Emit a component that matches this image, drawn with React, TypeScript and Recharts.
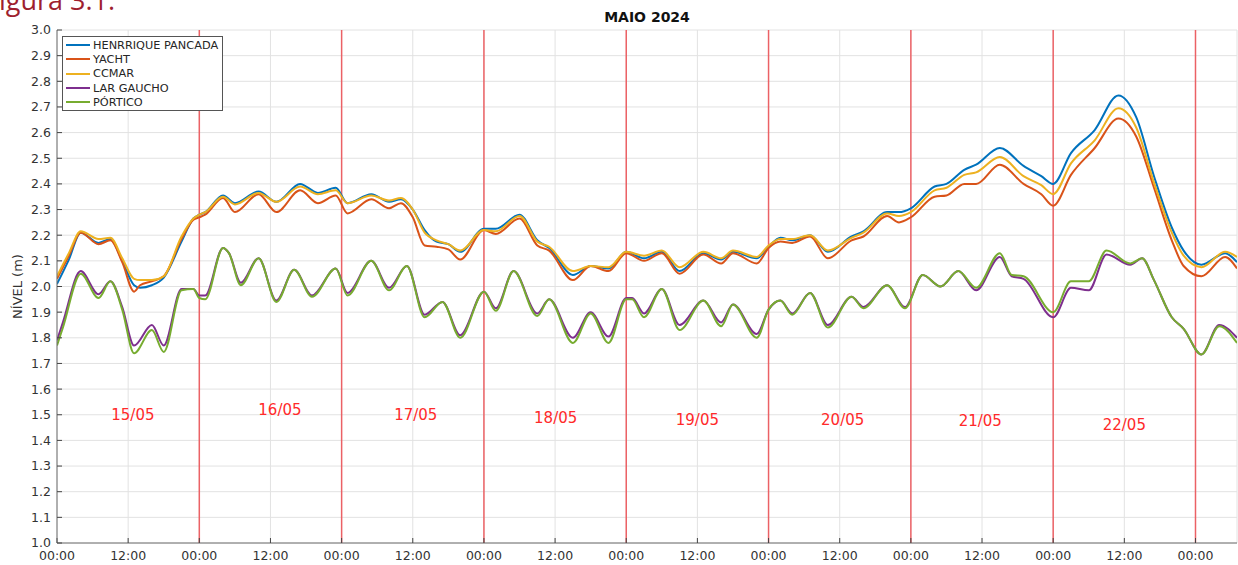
import { CartesianGrid, Label, Legend, Line, LineChart, ReferenceDot, ReferenceLine, XAxis, YAxis } from "recharts";

// hours since 15/05 00:00
const upperHours = [
  0, 2, 4, 7, 9, 11, 13, 14, 16, 18, 21, 23, 24, 25, 28, 30, 34, 37, 41, 44, 47, 49, 53, 56, 58, 60, 62, 64, 66, 68,
  72, 74, 78, 81, 83, 87, 90, 93, 96, 99, 102, 105, 109, 112, 114, 118, 120, 122, 124, 127, 130, 134, 136, 140, 142,
  144, 148, 150, 153, 155, 159, 163, 166, 168, 171, 175, 179, 182, 185, 188, 190, 193, 197, 199,
];
const henrriquePancada = [
  2.01, 2.105, 2.21, 2.17, 2.185, 2.1, 2.005, 1.995, 2.005, 2.035, 2.175, 2.265, 2.28, 2.29, 2.355, 2.325, 2.37, 2.33,
  2.4, 2.365, 2.385, 2.325, 2.36, 2.33, 2.34, 2.3, 2.22, 2.175, 2.165, 2.135, 2.225, 2.225, 2.28, 2.18, 2.15, 2.045,
  2.08, 2.07, 2.135, 2.11, 2.135, 2.06, 2.13, 2.105, 2.135, 2.11, 2.155, 2.19, 2.18, 2.2, 2.135, 2.195, 2.215, 2.29,
  2.29, 2.305, 2.39, 2.4, 2.455, 2.475, 2.54, 2.47, 2.43, 2.4, 2.52, 2.61, 2.745, 2.66, 2.43, 2.23, 2.14, 2.085, 2.13,
  2.095,
];
const yacht = [
  2.03, 2.12, 2.21, 2.165, 2.18, 2.095, 1.98, 2.005, 2.02, 2.04, 2.185, 2.26, 2.27, 2.28, 2.345, 2.29, 2.36, 2.29,
  2.375, 2.325, 2.355, 2.285, 2.34, 2.305, 2.325, 2.27, 2.16, 2.155, 2.145, 2.105, 2.22, 2.205, 2.265, 2.16, 2.14,
  2.025, 2.08, 2.06, 2.13, 2.1, 2.13, 2.05, 2.125, 2.09, 2.13, 2.09, 2.15, 2.175, 2.17, 2.195, 2.11, 2.18, 2.195, 2.275,
  2.25, 2.27, 2.35, 2.355, 2.4, 2.4, 2.475, 2.4, 2.36, 2.315, 2.435, 2.54, 2.655, 2.585, 2.385, 2.18, 2.08, 2.04, 2.115,
  2.07,
];
const ccmar = [
  2.04, 2.13, 2.215, 2.185, 2.19, 2.11, 2.03, 2.025, 2.025, 2.04, 2.195, 2.265, 2.28, 2.29, 2.35, 2.32, 2.365, 2.33,
  2.39, 2.36, 2.375, 2.325, 2.355, 2.335, 2.345, 2.3, 2.21, 2.18, 2.165, 2.14, 2.22, 2.215, 2.275, 2.175, 2.155, 2.06,
  2.08, 2.075, 2.135, 2.12, 2.14, 2.075, 2.135, 2.11, 2.14, 2.115, 2.16, 2.185, 2.185, 2.2, 2.14, 2.19, 2.21, 2.285,
  2.275, 2.29, 2.375, 2.385, 2.435, 2.445, 2.505, 2.43, 2.395, 2.36, 2.48, 2.57, 2.695, 2.62, 2.405, 2.21, 2.12, 2.075,
  2.135, 2.115,
];

const lowerHours = [
  0, 1, 4, 7, 9, 11, 13, 16, 18, 21, 23, 24, 25, 28, 29, 31, 34, 37, 40, 43, 47, 49, 53, 56, 59, 62, 65, 68, 72, 74,
  77, 81, 83, 87, 90, 93, 96, 97, 99, 102, 105, 109, 112, 114, 118, 120, 122, 124, 127, 130, 134, 136, 140, 143, 146,
  149, 152, 155, 159, 161, 163, 168, 171, 174, 177, 181, 183, 185, 188, 190, 193, 196, 199,
];
const larGaucho = [
  1.79, 1.86, 2.06, 1.97, 2.02, 1.92, 1.77, 1.85, 1.77, 1.99, 1.99, 1.965, 1.965, 2.15, 2.13, 2.015, 2.11, 1.945,
  2.065, 1.965, 2.07, 1.975, 2.1, 1.995, 2.08, 1.89, 1.94, 1.81, 1.98, 1.915, 2.06, 1.895, 1.95, 1.8, 1.9, 1.805,
  1.955, 1.955, 1.895, 1.99, 1.85, 1.945, 1.86, 1.93, 1.815, 1.91, 1.945, 1.895, 1.975, 1.85, 1.96, 1.92, 2.005, 1.92,
  2.045, 2.0, 2.06, 1.985, 2.115, 2.04, 2.03, 1.88, 1.995, 1.985, 2.125, 2.085, 2.11, 2.025, 1.88, 1.835, 1.735, 1.85,
  1.8,
];
const portico = [
  1.77, 1.84, 2.05, 1.955, 2.02, 1.91, 1.74, 1.83, 1.745, 1.985, 1.99, 1.955, 1.95, 2.15, 2.13, 2.005, 2.11, 1.94,
  2.065, 1.96, 2.07, 1.965, 2.1, 1.985, 2.08, 1.88, 1.94, 1.8, 1.98, 1.905, 2.06, 1.885, 1.95, 1.78, 1.895, 1.78, 1.95,
  1.95, 1.88, 1.99, 1.83, 1.945, 1.845, 1.93, 1.8, 1.91, 1.945, 1.89, 1.975, 1.84, 1.96, 1.915, 2.005, 1.915, 2.045,
  2.0, 2.06, 1.995, 2.13, 2.045, 2.04, 1.9, 2.02, 2.02, 2.14, 2.09, 2.11, 2.025, 1.88, 1.835, 1.735, 1.845, 1.78,
];

const xTicks = [0, 12, 24, 36, 48, 60, 72, 84, 96, 108, 120, 132, 144, 156, 168, 180, 192];
const yTicks = [
  1.0, 1.1, 1.2, 1.3, 1.4, 1.5, 1.6, 1.7, 1.8, 1.9, 2.0, 2.1, 2.2, 2.3, 2.4, 2.5, 2.6, 2.7, 2.8, 2.9, 3.0,
];
const dayBoundaries = [24, 48, 72, 96, 120, 144, 168, 192];
const dayLabels = ["15/05", "16/05", "17/05", "18/05", "19/05", "20/05", "21/05", "22/05"];
const dayLabelHours = [12.8, 37.6, 60.5, 84.1, 108, 132.5, 155.7, 180];
const dayLabelLevels = [1.5, 1.518, 1.499, 1.487, 1.48, 1.48, 1.476, 1.46];

const upperData = upperHours.map((h, i) => ({ h, hp: henrriquePancada[i], yacht: yacht[i], ccmar: ccmar[i] }));
const lowerData = lowerHours.map((h, i) => ({ h, lar: larGaucho[i], portico: portico[i] }));

const series = [
  { key: "hp", name: "HENRRIQUE PANCADA", color: "#0072BD", data: upperData },
  { key: "yacht", name: "YACHT", color: "#D95319", data: upperData },
  { key: "ccmar", name: "CCMAR", color: "#EDB120", data: upperData },
  { key: "lar", name: "LAR GAUCHO", color: "#7E2F8E", data: lowerData },
  { key: "portico", name: "PÓRTICO", color: "#77AC30", data: lowerData },
];

const font = "'DejaVu Sans', sans-serif";
const axisColor = "#6f6f6f";
const tickText = { fontSize: 12.5, fill: "#333", fontFamily: font };

function LegendBox() {
  return (
    <div style={{ border: "1px solid #555", background: "#fff", padding: "1px 4px 1px 3px", fontFamily: font }}>
      {series.map((s) => (
        <div key={s.key} style={{ display: "flex", alignItems: "center", height: 14.3 }}>
          <span style={{ width: 24, height: 2, background: s.color, marginRight: 3 }} />
          <span style={{ fontSize: 11.3, color: "#262626", whiteSpace: "nowrap" }}>{s.name}</span>
        </div>
      ))}
    </div>
  );
}

export default function App() {
  return (
    <div style={{ position: "absolute", left: 0, top: 0, width: 1238, height: 565, background: "#fff", overflow: "hidden" }}>
      <LineChart width={1238} height={565} margin={{ top: 30, right: 1, bottom: 0, left: 12 }}>
        <CartesianGrid stroke="#e2e2e2" strokeWidth={1} />
        <XAxis
          dataKey="h"
          type="number"
          domain={[0, 199]}
          ticks={xTicks}
          interval={0}
          height={22}
          tickFormatter={(h: number) => (h % 24 === 0 ? "00:00" : "12:00")}
          tick={tickText}
          tickSize={-5}
          tickMargin={13}
          tickLine={{ stroke: "#444" }}
          axisLine={{ stroke: axisColor }}
          allowDataOverflow
        />
        <XAxis
          xAxisId="top"
          orientation="top"
          dataKey="h"
          type="number"
          domain={[0, 199]}
          ticks={xTicks}
          interval={0}
          height={0}
          tickFormatter={() => ""}
          tickSize={-5}
          tickLine={{ stroke: "#444" }}
          axisLine={{ stroke: axisColor }}
        />
        <YAxis
          type="number"
          domain={[1, 3]}
          ticks={yTicks}
          interval={0}
          width={45}
          tickFormatter={(v: number) => v.toFixed(1)}
          tick={tickText}
          tickSize={-5}
          tickMargin={11}
          tickLine={{ stroke: "#444" }}
          axisLine={{ stroke: axisColor }}
          allowDataOverflow
        >
          <Label
            value="NÍVEL (m)"
            angle={-90}
            position="insideLeft"
            offset={5}
            style={{ fontSize: 13, fill: "#333", fontFamily: font, textAnchor: "middle" }}
          />
        </YAxis>
        <YAxis
          yAxisId="right"
          orientation="right"
          type="number"
          domain={[1, 3]}
          ticks={yTicks}
          interval={0}
          width={0}
          tickFormatter={() => ""}
          tickSize={-5}
          tickLine={{ stroke: "#444" }}
          axisLine={{ stroke: axisColor }}
        />
        {dayBoundaries.map((h) => (
          <ReferenceLine key={h} x={h} stroke="#ec4a4f" strokeOpacity={0.85} strokeWidth={1.5} />
        ))}
        {dayLabels.map((d, i) => (
          <ReferenceDot
            key={d}
            x={dayLabelHours[i]}
            y={dayLabelLevels[i]}
            r={1}
            fill="none"
            stroke="none"
            label={{ value: d, position: "center", fill: "#ff2a2a", fontSize: 15, fontFamily: font }}
          />
        ))}
        {series.map((s) => (
          <Line
            key={s.key}
            data={s.data}
            dataKey={s.key}
            name={s.name}
            type="monotone"
            stroke={s.color}
            strokeWidth={2}
            dot={false}
            activeDot={false}
            isAnimationActive={false}
          />
        ))}
        <Legend
          layout="vertical"
          align="center"
          verticalAlign="middle"
          wrapperStyle={{ left: 62, top: 36, width: "auto", height: "auto" }}
          content={() => <LegendBox />}
        />
      </LineChart>
      <div
        style={{
          position: "absolute",
          left: 547,
          top: 10,
          width: 200,
          textAlign: "center",
          fontFamily: font,
          fontSize: 14,
          lineHeight: "14px",
          fontWeight: 700,
          color: "#111",
        }}
      >
        MAIO 2024
      </div>
      <div
        style={{
          position: "absolute",
          left: -15,
          top: -14,
          fontFamily: "'Open Sans', sans-serif",
          fontSize: 27,
          lineHeight: "27px",
          color: "#9e1f2f",
          whiteSpace: "nowrap",
        }}
      >
        Figura 3.1.
      </div>
    </div>
  );
}
